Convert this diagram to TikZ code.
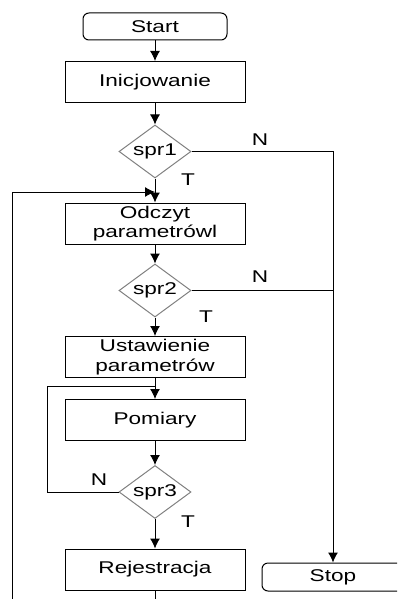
\documentclass[tikz,border=0pt]{standalone}
\usepackage{fontspec}
\setmainfont{Liberation Sans}[FakeStretch=1.33]
\usetikzlibrary{shapes.geometric,arrows.meta}
\begin{document}
\begin{tikzpicture}[x=0.5pt,y=-0.5pt,line width=0.5pt,
  >={Latex[length=5pt,width=5pt]},
  every node/.style={font=\fontsize{8.5}{9.8}\selectfont},
  blok/.style={draw,minimum width=90pt,minimum height=20.5pt,align=center,inner sep=0pt},
  term/.style={draw,rounded corners=3pt,minimum width=72pt,minimum height=13.5pt,inner sep=0pt},
  spr/.style={draw=gray,diamond,shape aspect=1.36,inner sep=0pt,minimum width=36pt,minimum height=26.5pt}]
\useasboundingbox (0,0) rectangle (397,599);
\clip (0,0) rectangle (397,599);
\node[term] (start) at (155,26.5) {Start};
\node[blok] (inic) at (155,82) {Inicjowanie};
\node[spr] (spr1) at (155,151.5) {spr1};
\node[blok] (odczyt) at (155,223.5) {Odczyt\\parametrówl};
\node[spr] (spr2) at (155,290.5) {spr2};
\node[blok] (ustaw) at (155,357) {Ustawienie\\parametrów};
\node[blok] (pomiary) at (155,420) {Pomiary};
\node[spr] (spr3) at (155,492) {spr3};
\node[blok] (rejestr) at (155,569.5) {Rejestracja};
\node[term,minimum width=71pt,minimum height=14pt] (stop) at (333,577) {Stop};
\node (n1) at (260,140) {N};
\node (t1) at (188,180) {T};
\node (n2) at (260,277) {N};
\node (t2) at (206,317) {T};
\node (n3) at (99,480) {N};
\node (t3) at (188,522) {T};
\coordinate (j1) at (155,192);
\coordinate (d1) at (12,599);
\coordinate (j3) at (155,386);
\coordinate (l3) at (47,386);
\coordinate (d2) at (155,599);
\draw[->] (start) -- (inic);
\draw[->] (inic) -- (spr1);
\draw[->] (spr1) -- (odczyt);
\draw[->] (odczyt) -- (spr2);
\draw[->] (spr2) -- (ustaw);
\draw[->] (ustaw) -- (pomiary);
\draw[->] (pomiary) -- (spr3);
\draw[->] (spr3) -- (rejestr);
\draw[->] (spr1.east) -| (stop.north);
\draw (spr2.east) -- (spr2.east -| stop.north);
\draw[->] (d1) |- (j1);
\draw (spr3.west) -| (l3) -- (j3);
\draw (rejestr) -- (d2);
\end{tikzpicture}
\end{document}
